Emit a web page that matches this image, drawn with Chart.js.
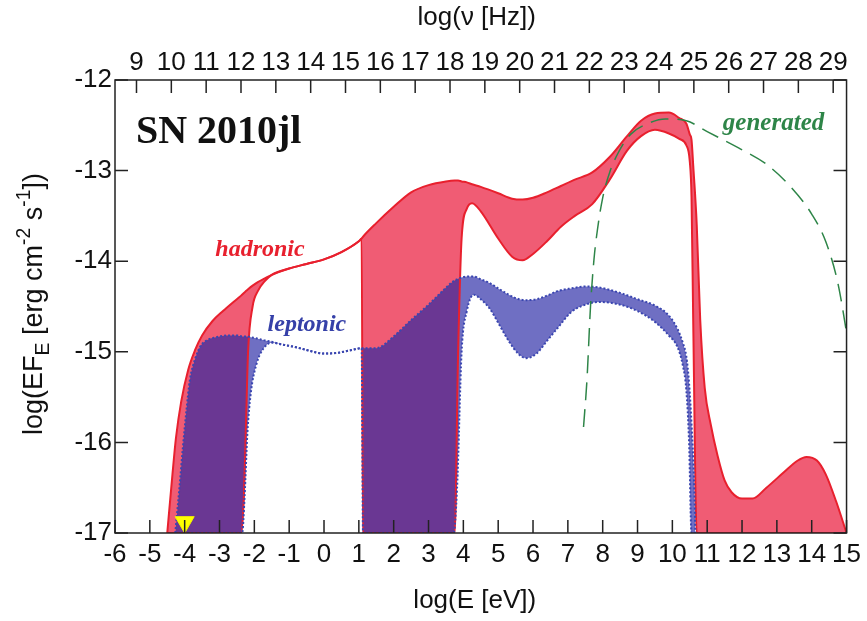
<!DOCTYPE html>
<html>
<head>
<meta charset="utf-8">
<title>SN 2010jl</title>
<script src="https://cdn.jsdelivr.net/npm/chart.js@4.4.1/dist/chart.umd.min.js"></script>
<style>
  html, body { margin: 0; padding: 0; background: #fff; }
  #wrap { width: 867px; height: 621px; position: relative; }
</style>
</head>
<body>
<div id="wrap"><canvas id="sed"></canvas></div>
<script>
/* ======================
   DATA
====================== */
// log(nu [Hz]) = log(E [eV]) + log(1/h)
const NU_OFFSET = 14.383;
const nuTicks = [9, 10, 11, 12, 13, 14, 15, 16, 17, 18, 19, 20, 21, 22, 23, 24, 25, 26, 27, 28, 29];

// hadronic band
const hadE = [-4.5, -4.35, -4.25, -4.1, -3.9, -3.7, -3.5, -3.2, -2.9, -2.6,
  -2.38, -2.3, -2.24, -2.18, -2.05, -1.9, -1.7, -1.5, -1.0, -0.5,
  0, 0.5, 1.0, 1.08, 1.12, 1.5, 2.0, 2.5, 3.0, 3.5,
  3.75, 3.85, 3.95, 4.1, 4.25, 4.5, 5.0, 5.4, 5.7, 6.0,
  6.4, 6.8, 7.2, 7.7, 8.2, 8.7, 9.1, 9.5, 9.9, 10.2,
  10.4, 10.5, 10.55, 10.6, 10.7, 10.8, 10.93, 11.1, 11.3, 11.5,
  11.7, 12.0, 12.3, 12.7, 13.2, 13.6, 13.85, 14.15, 14.4, 14.7, 15.0];
const hadHi = [-17, -16.35, -15.95, -15.55, -15.2, -14.98, -14.82, -14.66, -14.55, -14.45,
  -14.38, -14.35, -14.33, -14.31, -14.27, -14.23, -14.19, -14.15, -14.08, -14.03,
  -13.98, -13.9, -13.78, -13.75, -13.73, -13.58, -13.4, -13.24, -13.16, -13.12,
  -13.11, -13.11, -13.12, -13.13, -13.15, -13.18, -13.25, -13.31, -13.32, -13.3,
  -13.24, -13.17, -13.1, -13.02, -12.85, -12.62, -12.45, -12.37, -12.36, -12.42,
  -12.48, -12.6, -12.66, -12.95, -13.6, -14.65, -15.4, -15.8, -16.15, -16.42,
  -16.55, -16.62, -16.62, -16.5, -16.33, -16.2, -16.16, -16.2, -16.35, -16.65, -17];
const hadLo = [-17, -17, -17, -17, -17, -17, -17, -17, -17, -17,
  -17, -16.6, -15.8, -15.0, -14.5, -14.33, -14.22, -14.15, -14.08, -14.03,
  -13.98, -13.9, -13.78, -13.75, -17, -17, -17, -17, -17, -17,
  -17, -15.0, -13.75, -13.42, -13.36, -13.45, -13.75, -13.95, -13.99, -13.92,
  -13.78, -13.62, -13.5, -13.37, -13.1, -12.78, -12.62, -12.55, -12.59, -12.65,
  -12.72, -12.9, -13.3, -14.7, -17, -17, -17, -17, -17, -17,
  -17, -17, -17, -17, -17, -17, -17, -17, -17, -17, -17];

// leptonic band
const lepE = [-4.27, -4.15, -4.05, -3.95, -3.85, -3.7, -3.55, -3.35, -3.1, -2.8,
  -2.5, -2.35, -2.28, -2.2, -2.1, -1.95, -1.75, -1.5, -1.2, -0.8,
  -0.4, 0, 0.4, 0.8, 1.08, 1.12, 1.5, 2.0, 2.5, 3.0,
  3.4, 3.62, 3.72, 3.82, 3.95, 4.1, 4.3, 4.5, 4.75, 5.0,
  5.3, 5.6, 5.8, 6.1, 6.4, 6.7, 7.1, 7.5, 7.9, 8.5,
  9.0, 9.5, 9.9, 10.15, 10.3, 10.4, 10.48, 10.55, 10.62, 10.66];
const lepHi = [-17, -16.5, -16.05, -15.65, -15.31, -15.08, -14.94, -14.87, -14.84, -14.82,
  -14.82, -14.83, -14.83, -14.83, -14.84, -14.85, -14.87, -14.89, -14.92, -14.95,
  -14.99, -15.02, -15.01, -14.98, -14.96, -14.96, -14.96, -14.83, -14.65, -14.48,
  -14.33, -14.25, -14.22, -14.2, -14.18, -14.17, -14.17, -14.2, -14.24, -14.3,
  -14.37, -14.42, -14.43, -14.42, -14.38, -14.33, -14.3, -14.28, -14.29, -14.35,
  -14.42, -14.49, -14.6, -14.75, -14.9, -15.05, -15.35, -15.8, -16.4, -17];
const lepLo = [-17, -17, -17, -17, -17, -17, -17, -17, -17, -17,
  -17, -17, -16.6, -15.9, -15.45, -15.15, -14.97, -14.9, -14.92, -14.95,
  -14.99, -15.02, -15.01, -14.98, -14.96, -17, -17, -17, -17, -17,
  -17, -17, -17, -16.5, -15.0, -14.55, -14.37, -14.42, -14.52, -14.68,
  -14.88, -15.03, -15.07, -15.02, -14.88, -14.74, -14.56, -14.48, -14.45, -14.48,
  -14.55, -14.67, -14.82, -14.95, -15.15, -15.42, -16.0, -17, -17, -17];

// generated (dashed)
const genE = [7.45, 7.55, 7.65, 7.75, 7.85, 8.0, 8.2, 8.45, 8.8, 9.3,
  9.8, 10.4, 11.0, 11.9, 12.7, 13.4, 14.0, 14.4, 14.75, 15.05];
const genY = [-15.83, -15.3, -14.5, -13.98, -13.65, -13.3, -13.02, -12.8, -12.6, -12.48,
  -12.43, -12.45, -12.57, -12.75, -12.93, -13.18, -13.48, -13.78, -14.24, -14.9];

// upper-limit marker
const limE = [-4];
const limY = [-16.88];

/* ======================
   STYLE
====================== */
const RED_LINE = "#e8202e";
const RED_FILL = "rgb(240,92,116)";
const BLUE_LINE = "#3a46b0";
const BLUE_FILL = "rgba(36,36,164,0.66)";
const GREEN = "#2e8548";
const SANS = '"Liberation Sans", Arial, sans-serif';
const SERIF = '"Liberation Serif", "Times New Roman", serif';

function toPts(xs, ys) {
  return xs.map((x, i) => ({ x: x, y: ys[i] }));
}

/* ======================
   TEXT HELPERS
====================== */
function drawRich(ctx, parts, x, y, size) {
  let w = 0;
  parts.forEach((p) => {
    ctx.font = (p.s ? size * 0.72 : size) + "px " + SANS;
    p.w = ctx.measureText(p.t).width;
    w += p.w;
  });
  let cx = x - w / 2;
  ctx.textAlign = "left";
  ctx.textBaseline = "middle";
  parts.forEach((p) => {
    ctx.font = (p.s ? size * 0.72 : size) + "px " + SANS;
    let dy = 0;
    if (p.s === "sub") dy = size * 0.32;
    if (p.s === "sup") dy = -size * 0.38;
    ctx.fillText(p.t, cx, y + dy);
    cx += p.w;
  });
}

const framePlugin = {
  id: "frame",
  afterDatasetsDraw(chart) {
    const { ctx, chartArea: a, scales } = chart;
    const len = 13;
    ctx.save();
    ctx.strokeStyle = "#222";
    ctx.lineWidth = 1.5;
    ctx.strokeRect(a.left, a.top, a.right - a.left, a.bottom - a.top);
    ctx.beginPath();
    scales.x.ticks.forEach((t) => {
      const px = scales.x.getPixelForValue(t.value);
      ctx.moveTo(px, a.bottom);
      ctx.lineTo(px, a.bottom - len);
    });
    scales.x2.ticks.forEach((t) => {
      const px = scales.x2.getPixelForValue(t.value);
      ctx.moveTo(px, a.top);
      ctx.lineTo(px, a.top + len);
    });
    scales.y.ticks.forEach((t) => {
      const py = scales.y.getPixelForValue(t.value);
      ctx.moveTo(a.left, py);
      ctx.lineTo(a.left + len, py);
      ctx.moveTo(a.right, py);
      ctx.lineTo(a.right - len, py);
    });
    ctx.stroke();

    // annotations
    const X = (v) => scales.x.getPixelForValue(v);
    const Y = (v) => scales.y.getPixelForValue(v);
    ctx.textAlign = "left";
    ctx.textBaseline = "alphabetic";
    ctx.fillStyle = "#111";
    ctx.font = "bold 40px " + SERIF;
    ctx.fillText("SN 2010jl", X(-5.4), Y(-12.695));
    ctx.font = "italic bold 24px " + SERIF;
    ctx.fillStyle = RED_LINE;
    ctx.fillText("hadronic", X(-3.12), Y(-13.94));
    ctx.fillStyle = "#3540a8";
    ctx.fillText("leptonic", X(-1.62), Y(-14.77));
    ctx.font = "italic bold 25px " + SERIF;
    ctx.fillStyle = GREEN;
    ctx.fillText("generated", X(11.45), Y(-12.55));

    // axis titles
    ctx.fillStyle = "#111";
    const cx = (a.left + a.right) / 2 - 4;
    drawRich(ctx, [{ t: "log(ν [Hz])" }], cx, 18, 26);
    drawRich(ctx, [{ t: "log(E [eV])" }], cx - 2, 601, 26);
    ctx.translate(35, 304);
    ctx.rotate(-Math.PI / 2);
    drawRich(ctx, [
      { t: "log(EF" }, { t: "E", s: "sub" }, { t: " [erg cm" }, { t: "-2", s: "sup" },
      { t: " s" }, { t: "-1", s: "sup" }, { t: "])" },
    ], 0, 0, 27);
    ctx.restore();
  },
};

/* ======================
   CHART
====================== */
const tickFont = { family: SANS, size: 26 };
const noGrid = { display: false, drawTicks: false };

new Chart(document.getElementById("sed"), {
  type: "line",
  data: {
    datasets: [
      {
        label: "generated",
        data: toPts(genE, genY),
        borderColor: GREEN,
        borderWidth: 1.5,
        borderDash: [18, 9],
        pointRadius: 0,
        fill: false,
        cubicInterpolationMode: "monotone",
        order: 0,
      },
      {
        label: "limit",
        data: toPts(limE, limY),
        showLine: false,
        pointStyle: "triangle",
        rotation: 180,
        pointRadius: 11,
        backgroundColor: "#ffff00",
        borderColor: "#f2f200",
        borderWidth: 1,
        order: 0,
      },
      {
        label: "leptonic hi",
        data: toPts(lepE, lepHi),
        borderColor: BLUE_LINE,
        borderWidth: 2,
        borderDash: [2, 2],
        pointRadius: 0,
        fill: false,
        cubicInterpolationMode: "monotone",
        order: 1,
      },
      {
        label: "leptonic lo",
        data: toPts(lepE, lepLo),
        borderColor: BLUE_LINE,
        borderWidth: 2,
        borderDash: [2, 2],
        pointRadius: 0,
        backgroundColor: BLUE_FILL,
        fill: "-1",
        cubicInterpolationMode: "monotone",
        order: 1,
      },
      {
        label: "hadronic hi",
        data: toPts(hadE, hadHi),
        borderColor: RED_LINE,
        borderWidth: 2,
        pointRadius: 0,
        fill: false,
        cubicInterpolationMode: "monotone",
        order: 2,
      },
      {
        label: "hadronic lo",
        data: toPts(hadE, hadLo),
        borderColor: RED_LINE,
        borderWidth: 2,
        pointRadius: 0,
        backgroundColor: RED_FILL,
        fill: "-1",
        cubicInterpolationMode: "monotone",
        order: 2,
      },
    ],
  },
  options: {
    responsive: true,
    maintainAspectRatio: false,
    animation: false,
    layout: { padding: { left: 0, right: 18, top: 0, bottom: 0 } },
    plugins: {
      legend: { display: false },
      tooltip: { enabled: false },
      filler: { drawTime: "beforeDatasetsDraw" },
    },
    scales: {
      x: {
        type: "linear",
        position: "bottom",
        min: -6,
        max: 15,
        grid: noGrid,
        border: { display: false },
        ticks: { stepSize: 1, font: tickFont, color: "#111", padding: 6, autoSkip: false, maxRotation: 0 },
        afterFit: (s) => { s.height = 88; },
      },
      x2: {
        type: "linear",
        position: "top",
        min: -6 + NU_OFFSET,
        max: 15 + NU_OFFSET,
        grid: noGrid,
        border: { display: false },
        ticks: { font: tickFont, color: "#111", padding: 2, autoSkip: false, maxRotation: 0 },
        afterBuildTicks: (s) => { s.ticks = nuTicks.map((v) => ({ value: v })); },
        afterFit: (s) => { s.height = 80; },
      },
      y: {
        type: "linear",
        min: -17,
        max: -12,
        grid: noGrid,
        border: { display: false },
        ticks: { stepSize: 1, font: tickFont, color: "#111", padding: 3 },
        afterFit: (s) => { s.width = 115; },
      },
    },
  },
  plugins: [framePlugin],
});
</script>
</body>
</html>
